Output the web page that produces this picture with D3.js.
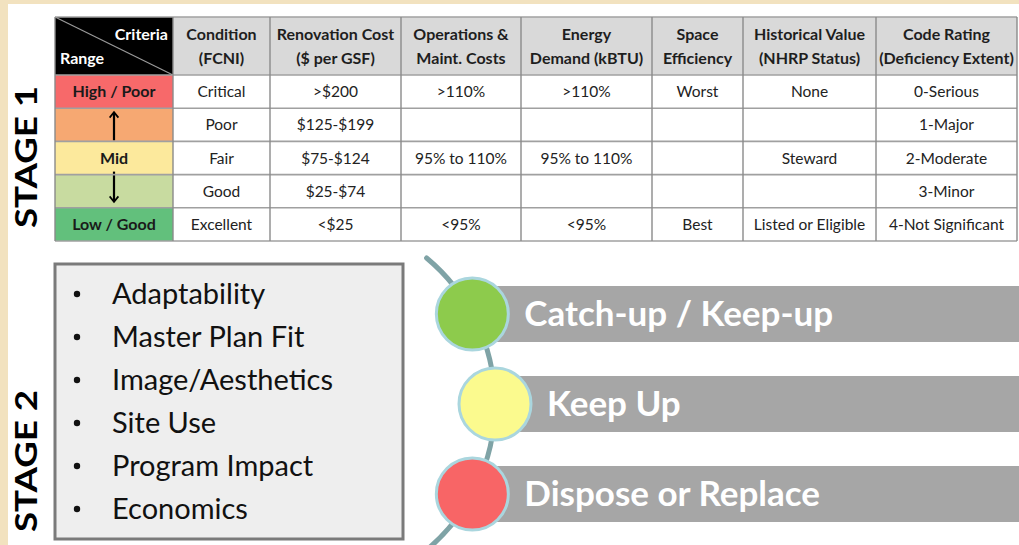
<!DOCTYPE html>
<html>
<head>
<meta charset="utf-8">
<script src="https://cdn.jsdelivr.net/npm/d3@7"></script>
<style>
  body { margin: 0; background: #f2e2bf; }
  svg { display: block; }
  text { font-family: Lato, "Open Sans", sans-serif; }
</style>
</head>
<body>
<div id="chart"></div>
<script>
// criteria kolommen (kop in twee regels)
var criteria = [
  ["Condition", "(FCNI)"],
  ["Renovation Cost", "($ per GSF)"],
  ["Operations &", "Maint. Costs"],
  ["Energy", "Demand (kBTU)"],
  ["Space", "Efficiency"],
  ["Historical Value", "(NHRP Status)"],
  ["Code Rating", "(Deficiency Extent)"]
];

// de range labels, van hoog naar laag
var ranges = ["High / Poor", "", "Mid", "", "Low / Good"];

// waardes per kolom, zelfde volgorde als ranges
var condition = ["Critical", "Poor", "Fair", "Good", "Excellent"];
var renovationCost = [">$200", "$125-$199", "$75-$124", "$25-$74", "<$25"];
var operationsCost = [">110%", "", "95% to 110%", "", "<95%"];
var energyDemand = [">110%", "", "95% to 110%", "", "<95%"];
var spaceEfficiency = ["Worst", "", "", "", "Best"];
var historicalValue = ["None", "", "Steward", "", "Listed or Eligible"];
var codeRating = ["0-Serious", "1-Major", "2-Moderate", "3-Minor", "4-Not Significant"];

var columns = [condition, renovationCost, operationsCost, energyDemand, spaceEfficiency, historicalValue, codeRating];

// stage 2 lijst en de uitkomsten
var stage2Factors = ["Adaptability", "Master Plan Fit", "Image/Aesthetics", "Site Use", "Program Impact", "Economics"];
var outcomes = ["Catch-up / Keep-up", "Keep Up", "Dispose or Replace"];

// kleuren
var rangeColors = ["#f7696a", "#f6a872", "#fce99c", "#c8dba0", "#62c07c"];
var outcomeColors = ["#8dcb4c", "#fbfa8e", "#f86566"];

var width = 1019, height = 545;

var svg = d3.select('#chart')
  .append('svg')
  .attr('width', width)
  .attr('height', height);

// achtergrond: perkament en wit vlak
svg.append('rect')
  .attr('width', width).attr('height', height)
  .attr('fill', '#f2e2bf');
svg.append('rect')
  .attr('x', 8).attr('y', 4)
  .attr('width', width - 8).attr('height', height - 4)
  .attr('fill', '#ffffff');

// ---------- STAGE 1 tabel ----------
var tableLeft = 55, tableTop = 17, headerBottom = 75, tableBottom = 241;
var colWidths = [118, 97, 131, 120, 131, 91, 133, 141];
var colEdges = [tableLeft];
colWidths.forEach(function(w, i){ colEdges.push(colEdges[i] + w); });

var yRow = d3.scaleBand()
  .domain(d3.range(ranges.length))
  .range([headerBottom, tableBottom]);

var tbl = svg.append('g').attr('class', 'table');

// kop cellen
tbl.selectAll('.head')
  .data(criteria)
  .enter().append('rect')
  .attr('class', 'head')
  .attr('x', function(d, i){ return colEdges[i + 1]; })
  .attr('y', tableTop)
  .attr('width', function(d, i){ return colWidths[i + 1]; })
  .attr('height', headerBottom - tableTop)
  .attr('fill', '#d9d9d9');

tbl.selectAll('.headText')
  .data(criteria)
  .enter().append('text')
  .attr('class', 'headText')
  .attr('x', function(d, i){ return colEdges[i + 1] + colWidths[i + 1] / 2; })
  .attr('y', tableTop)
  .attr('text-anchor', 'middle')
  .attr('font-size', 16)
  .attr('font-weight', 'bold')
  .attr('fill', '#1e1e1e')
  .each(function(d){
    var t = d3.select(this);
    t.append('tspan').attr('x', t.attr('x')).attr('dy', 23).text(d[0]);
    t.append('tspan').attr('x', t.attr('x')).attr('dy', 24).text(d[1]);
  });

// zwarte hoekcel met diagonaal
tbl.append('rect')
  .attr('x', colEdges[0]).attr('y', tableTop)
  .attr('width', colWidths[0]).attr('height', headerBottom - tableTop)
  .attr('fill', '#000');
tbl.append('line')
  .attr('x1', colEdges[0]).attr('y1', tableTop)
  .attr('x2', colEdges[1]).attr('y2', headerBottom)
  .attr('stroke', '#9a9a9a').attr('stroke-width', 1.2);
tbl.append('text')
  .attr('x', colEdges[1] - 5).attr('y', tableTop + 23)
  .attr('text-anchor', 'end')
  .attr('font-size', 16).attr('font-weight', 'bold')
  .attr('fill', '#fff')
  .text('Criteria');
tbl.append('text')
  .attr('x', colEdges[0] + 5).attr('y', tableTop + 47)
  .attr('font-size', 16).attr('font-weight', 'bold')
  .attr('fill', '#fff')
  .text('Range');

// gekleurde range cellen
tbl.selectAll('.range')
  .data(ranges)
  .enter().append('rect')
  .attr('class', 'range')
  .attr('x', colEdges[0])
  .attr('y', function(d, i){ return yRow(i); })
  .attr('width', colWidths[0])
  .attr('height', yRow.bandwidth())
  .attr('fill', function(d, i){ return rangeColors[i]; });

tbl.selectAll('.rangeText')
  .data(ranges)
  .enter().append('text')
  .attr('class', 'rangeText')
  .attr('x', colEdges[0] + colWidths[0] / 2)
  .attr('y', function(d, i){ return yRow(i) + yRow.bandwidth() / 2 + 5.5; })
  .attr('text-anchor', 'middle')
  .attr('font-size', 16).attr('font-weight', 'bold')
  .attr('fill', '#1a1a1a')
  .text(function(d){ return d; });

// pijlen rond "Mid"
var midX = colEdges[0] + colWidths[0] / 2;
svg.append('defs').append('marker')
  .attr('id', 'head')
  .attr('viewBox', '0 0 10 10')
  .attr('refX', 5).attr('refY', 5)
  .attr('markerWidth', 5).attr('markerHeight', 5)
  .attr('orient', 'auto')
  .append('path')
  .attr('d', 'M1,1 L6,5 L1,9')
  .attr('fill', 'none').attr('stroke', '#000').attr('stroke-width', 1.6);
tbl.append('line')
  .attr('x1', midX).attr('y1', yRow(2) - 1)
  .attr('x2', midX).attr('y2', yRow(1) + 5)
  .attr('stroke', '#000').attr('stroke-width', 2.2)
  .attr('marker-end', 'url(#head)');
tbl.append('line')
  .attr('x1', midX).attr('y1', yRow(2) + yRow.bandwidth() - 3)
  .attr('x2', midX).attr('y2', yRow(4) - 7)
  .attr('stroke', '#000').attr('stroke-width', 2.2)
  .attr('marker-end', 'url(#head)');

// waardes in de cellen
columns.forEach(function(col, c){
  tbl.selectAll('.cell' + c)
    .data(col)
    .enter().append('text')
    .attr('class', 'cell' + c)
    .attr('x', colEdges[c + 1] + colWidths[c + 1] / 2)
    .attr('y', function(d, i){ return yRow(i) + yRow.bandwidth() / 2 + 5.5; })
    .attr('text-anchor', 'middle')
    .attr('font-size', 15.5)
    .attr('fill', '#222')
    .text(function(d){ return d; });
});

// rasterlijnen
var hLines = [tableTop, headerBottom].concat(d3.range(1, ranges.length + 1).map(function(i){ return yRow(i) || tableBottom; }));
tbl.selectAll('.hline')
  .data(hLines)
  .enter().append('line')
  .attr('x1', colEdges[0]).attr('x2', colEdges[colEdges.length - 1])
  .attr('y1', function(d){ return d; }).attr('y2', function(d){ return d; })
  .attr('stroke', '#a0a0a0').attr('stroke-width', 1.6);
tbl.selectAll('.vline')
  .data(colEdges)
  .enter().append('line')
  .attr('x1', function(d){ return d; }).attr('x2', function(d){ return d; })
  .attr('y1', tableTop).attr('y2', tableBottom)
  .attr('stroke', '#8a8a8a').attr('stroke-width', 1.4);

// ---------- STAGE labels ----------
svg.selectAll('.stage')
  .data([{label: 'STAGE 1', y: 157}, {label: 'STAGE 2', y: 461}])
  .enter().append('text')
  .attr('class', 'stage')
  .attr('transform', function(d){ return 'translate(37,' + d.y + ') rotate(-90)'; })
  .attr('text-anchor', 'middle')
  .attr('font-family', '"DejaVu Sans", sans-serif')
  .attr('font-weight', 'bold')
  .attr('font-size', 30)
  .attr('textLength', 142)
  .attr('lengthAdjust', 'spacingAndGlyphs')
  .attr('fill', '#000')
  .text(function(d){ return d.label; });

// ---------- STAGE 2 lijst ----------
svg.append('rect')
  .attr('x', 55).attr('y', 264)
  .attr('width', 348).attr('height', 275)
  .attr('fill', '#eeeeee')
  .attr('stroke', '#7a7a7a').attr('stroke-width', 3);

var yFactor = d3.scalePoint()
  .domain(stage2Factors)
  .range([294, 509]);

svg.selectAll('.bullet')
  .data(stage2Factors)
  .enter().append('circle')
  .attr('class', 'bullet')
  .attr('cx', 77)
  .attr('cy', function(d){ return yFactor(d); })
  .attr('r', 3.2)
  .attr('fill', '#111');

svg.selectAll('.factor')
  .data(stage2Factors)
  .enter().append('text')
  .attr('class', 'factor')
  .attr('x', 112)
  .attr('y', function(d){ return yFactor(d) + 10; })
  .attr('font-size', 29)
  .attr('fill', '#111')
  .text(function(d){ return d; });

// ---------- uitkomsten met boog ----------
var arcR = 190, arcCx = 305, arcCy = 404;
var yOutcome = d3.scalePoint()
  .domain(outcomes)
  .range([314, 494]);
function arcX(y){ return arcCx + Math.sqrt(arcR * arcR - (y - arcCy) * (y - arcCy)); }

svg.selectAll('.bar')
  .data(outcomes)
  .enter().append('rect')
  .attr('class', 'bar')
  .attr('x', function(d){ return arcX(yOutcome(d)); })
  .attr('y', function(d){ return yOutcome(d) - 28; })
  .attr('width', function(d){ return width - arcX(yOutcome(d)); })
  .attr('height', 56)
  .attr('fill', '#a6a6a6');

var p = d3.path();
p.arc(arcCx, arcCy, arcR, Math.asin((258 - arcCy) / arcR), Math.asin((548 - arcCy) / arcR));
svg.append('path')
  .attr('d', p.toString())
  .attr('fill', 'none')
  .attr('stroke', '#7fa3a6')
  .attr('stroke-width', 5)
  .attr('stroke-linecap', 'round');

svg.selectAll('.dot')
  .data(outcomes)
  .enter().append('circle')
  .attr('class', 'dot')
  .attr('cx', function(d){ return arcX(yOutcome(d)); })
  .attr('cy', function(d){ return yOutcome(d); })
  .attr('r', 36)
  .attr('fill', function(d, i){ return outcomeColors[i]; })
  .attr('stroke', '#aad6de')
  .attr('stroke-width', 3);

svg.selectAll('.outcome')
  .data(outcomes)
  .enter().append('text')
  .attr('class', 'outcome')
  .attr('x', function(d){ return arcX(yOutcome(d)) + 52; })
  .attr('y', function(d){ return yOutcome(d) + 12; })
  .attr('font-size', 35)
  .attr('font-weight', 'bold')
  .attr('fill', '#ffffff')
  .text(function(d){ return d; });
</script>
</body>
</html>
